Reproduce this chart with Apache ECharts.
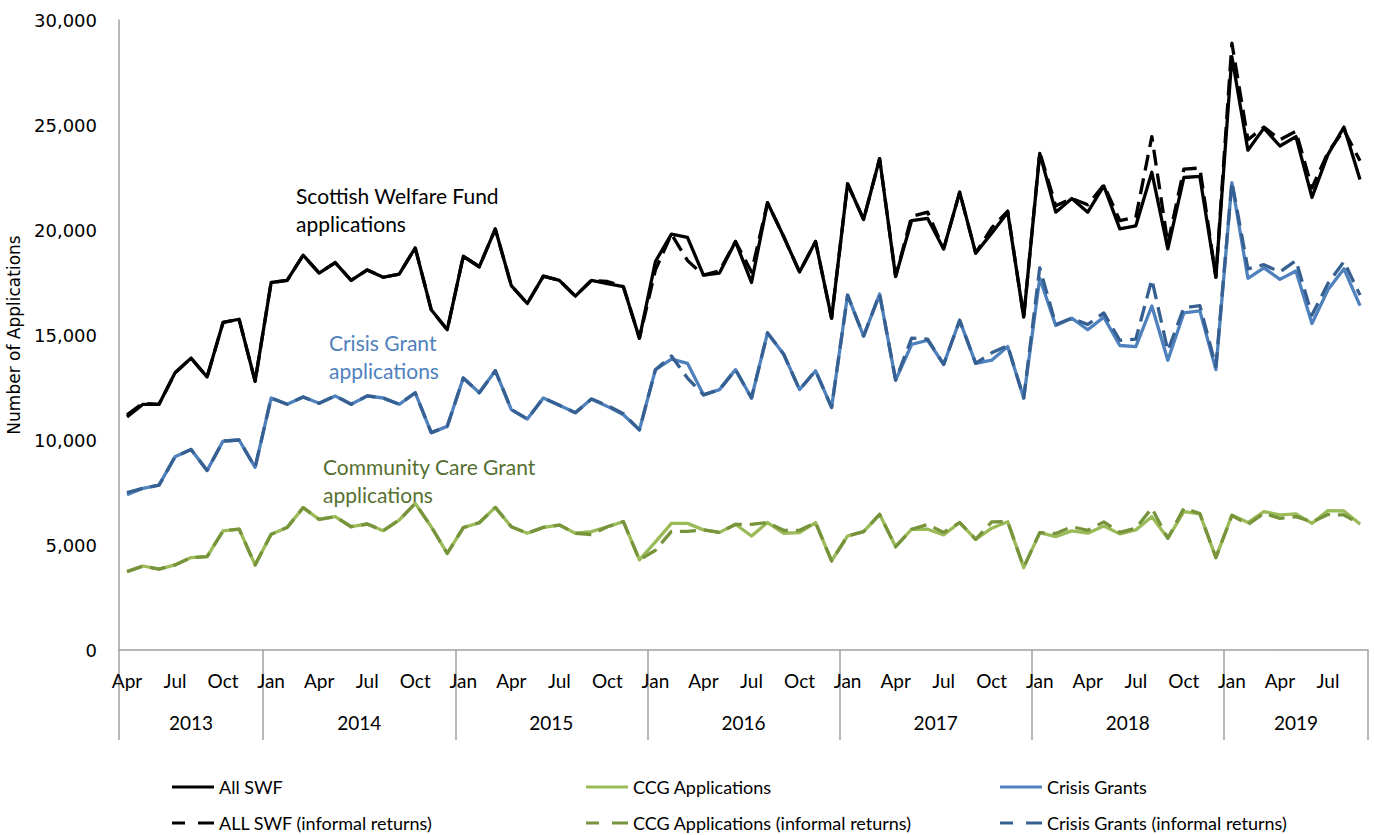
<!DOCTYPE html>
<html><head><meta charset="utf-8">
<script src="https://cdn.jsdelivr.net/npm/echarts@6/dist/echarts.min.js"></script>
<style>html,body{margin:0;padding:0;background:#fff}#c{width:1374px;height:835px}</style>
</head><body><div id="c"></div>
<script>
const categories = [
 'Apr 2013','May 2013','Jun 2013','Jul 2013','Aug 2013','Sep 2013','Oct 2013','Nov 2013','Dec 2013',
 'Jan 2014','Feb 2014','Mar 2014','Apr 2014','May 2014','Jun 2014','Jul 2014','Aug 2014','Sep 2014','Oct 2014','Nov 2014','Dec 2014',
 'Jan 2015','Feb 2015','Mar 2015','Apr 2015','May 2015','Jun 2015','Jul 2015','Aug 2015','Sep 2015','Oct 2015','Nov 2015','Dec 2015',
 'Jan 2016','Feb 2016','Mar 2016','Apr 2016','May 2016','Jun 2016','Jul 2016','Aug 2016','Sep 2016','Oct 2016','Nov 2016','Dec 2016',
 'Jan 2017','Feb 2017','Mar 2017','Apr 2017','May 2017','Jun 2017','Jul 2017','Aug 2017','Sep 2017','Oct 2017','Nov 2017','Dec 2017',
 'Jan 2018','Feb 2018','Mar 2018','Apr 2018','May 2018','Jun 2018','Jul 2018','Aug 2018','Sep 2018','Oct 2018','Nov 2018','Dec 2018',
 'Jan 2019','Feb 2019','Mar 2019','Apr 2019','May 2019','Jun 2019','Jul 2019','Aug 2019','Sep 2019'
];

const allSwf = [
 11100, 11700, 11700, 13200, 13900, 13000, 15600, 15750, 12800,
 17500, 17600, 18800, 17950, 18450, 17600, 18100, 17750, 17900, 19150, 16200, 15250,
 18750, 18250, 20050, 17350, 16500, 17800, 17600, 16850, 17600, 17450, 17300, 14850,
 18500, 19800, 19650, 17850, 17950, 19450, 17500, 21300, 19700, 18000, 19450, 15800,
 22200, 20500, 23400, 17780, 20450, 20550, 19100, 21800, 18900, 19850, 20850, 15850,
 23650, 20850, 21500, 20850, 22100, 20050, 20200, 22750, 19100, 22500, 22550, 17750,
 28250, 23800, 24850, 24000, 24450, 21550, 23600, 24900, 22400
];
const allSwfInformal = [
 11200, 11750, 11700, 13200, 13900, 13000, 15600, 15750, 12800,
 17500, 17600, 18800, 17950, 18450, 17600, 18100, 17750, 17900, 19150, 16200, 15250,
 18750, 18250, 20050, 17350, 16500, 17800, 17600, 16850, 17600, 17550, 17300, 14850,
 18100, 19800, 18550, 17850, 18050, 19450, 18000, 21300, 19700, 18000, 19450, 15800,
 22200, 20500, 23400, 17800, 20650, 20850, 19100, 21800, 18900, 20100, 20900, 15850,
 23700, 21150, 21500, 21200, 22150, 20450, 20600, 24450, 19350, 22900, 22950, 17750,
 28900, 24300, 24900, 24300, 24700, 22000, 23700, 24750, 23300
];
const crisisGrants = [
 7400, 7700, 7850, 9200, 9550, 8550, 9950, 10000, 8700,
 12000, 11700, 12050, 11750, 12100, 11700, 12100, 12000, 11700, 12250, 10350, 10650,
 12950, 12250, 13300, 11450, 11000, 12000, 11650, 11300, 11950, 11600, 11200, 10480,
 13350, 13850, 13650, 12150, 12400, 13350, 12000, 15100, 14100, 12400, 13300, 11550,
 16900, 14950, 16950, 12850, 14550, 14750, 13600, 15700, 13650, 13800, 14450, 12000,
 17700, 15450, 15800, 15250, 15850, 14500, 14450, 16380, 13800, 16050, 16150, 13350,
 22250, 17700, 18200, 17650, 18050, 15550, 17150, 18150, 16400
];
const crisisGrantsInformal = [
 7500, 7700, 7850, 9200, 9550, 8550, 9950, 10000, 8700,
 12000, 11700, 12050, 11750, 12100, 11700, 12100, 12000, 11700, 12250, 10350, 10650,
 12950, 12250, 13300, 11450, 11000, 12000, 11650, 11300, 11950, 11650, 11250, 10480,
 13350, 14000, 12950, 12150, 12400, 13350, 12000, 15100, 14100, 12400, 13300, 11550,
 16900, 14950, 16950, 12850, 14850, 14800, 13600, 15700, 13650, 14150, 14500, 12000,
 18200, 15500, 15800, 15500, 16050, 14750, 14800, 17650, 14250, 16300, 16400, 13500,
 22300, 18150, 18350, 18000, 18550, 15950, 17450, 18500, 16900
];
const ccgApplications = [
 3730, 4000, 3850, 4050, 4400, 4450, 5670, 5760, 4050,
 5510, 5830, 6780, 6220, 6350, 5870, 6000, 5680, 6190, 6980, 5870, 4600,
 5830, 6060, 6790, 5870, 5560, 5840, 5950, 5560, 5640, 5870, 6110, 4290,
 5150, 6030, 6030, 5720, 5600, 5990, 5430, 6070, 5560, 5590, 6070, 4240,
 5430, 5640, 6460, 4920, 5750, 5750, 5480, 6070, 5270, 5800, 6110, 3920,
 5590, 5400, 5670, 5560, 5900, 5530, 5720, 6350, 5320, 6590, 6480, 4400,
 6430, 6070, 6590, 6430, 6480, 6030, 6640, 6620, 6000
];
const ccgApplicationsInformal = [
 3730, 4000, 3850, 4050, 4400, 4450, 5670, 5760, 4050,
 5510, 5830, 6780, 6220, 6350, 5870, 6000, 5680, 6190, 6980, 5870, 4600,
 5830, 6060, 6790, 5870, 5560, 5840, 5950, 5560, 5500, 5870, 6110, 4290,
 4750, 5650, 5650, 5720, 5600, 5980, 5980, 6070, 5700, 5700, 6070, 4240,
 5430, 5640, 6460, 4920, 5750, 5980, 5600, 6070, 5270, 6100, 6110, 3950,
 5590, 5550, 5870, 5700, 6100, 5600, 5800, 6750, 5320, 6750, 6500, 4400,
 6400, 5980, 6500, 6270, 6350, 6100, 6450, 6430, 6000
];
const yTicks = [0, 5000, 10000, 15000, 20000, 25000, 30000];

// year labels centred on each year's span of months
const yearLabelAt = {};
(function () {
  const spans = {};
  categories.forEach((c, i) => {
    const y = c.split(' ')[1];
    if (!spans[y]) spans[y] = [i, i];
    spans[y][1] = i;
  });
  Object.keys(spans).forEach(y => {
    const centre = (spans[y][0] + spans[y][1] + 1) / 2;
    yearLabelAt[Math.round(centre * 2)] = y;
  });
})();

const FONT = 'Lato, "Open Sans", sans-serif';
const AX = '#a0a0a0';
const solidIcon = 'rect';
const dashIcon = 'path://M0,0H13V3H0Z M26,0H42V3H26Z';

const seriesDefs = [
  {name: 'All SWF', data: allSwf, color: '#000000', dashed: false},
  {name: 'CCG Applications', data: ccgApplications, color: '#9bbb59', dashed: false},
  {name: 'Crisis Grants', data: crisisGrants, color: '#4f81bd', dashed: false},
  {name: 'ALL SWF (informal returns)', data: allSwfInformal, color: '#000000', dashed: true},
  {name: 'CCG Applications (informal returns)', data: ccgApplicationsInformal, color: '#77933c', dashed: true},
  {name: 'Crisis Grants (informal returns)', data: crisisGrantsInformal, color: '#376092', dashed: true}
];
const legendPos = [[172, 778], [586, 778], [1000, 778], [172, 814], [586, 814], [1000, 814]];

const chart = echarts.init(document.getElementById('c'), null, {renderer: 'svg'});
chart.setOption({
  animation: false,
  backgroundColor: '#ffffff',
  grid: {left: 119, right: 6, top: 20, bottom: 185, outerBoundsMode: 'none', containLabel: false},
  xAxis: [
    {
      type: 'category', data: categories, boundaryGap: true,
      axisLine: {show: true, lineStyle: {color: AX, width: 1.5}},
      axisTick: {show: true, length: 90, lineStyle: {color: AX, width: 1.5},
        interval: (i, v) => i === 0 || String(v).startsWith('Jan')},
      axisLabel: {interval: 2, margin: 21, fontSize: 19, fontFamily: FONT, color: '#000',
        formatter: v => v.split(' ')[0]},
      splitLine: {show: false}
    },
    {
      type: 'value', position: 'bottom', min: 0, max: categories.length, interval: 0.5,
      axisLine: {show: false}, axisTick: {show: false}, splitLine: {show: false},
      axisLabel: {margin: 63, fontSize: 19, fontFamily: FONT, color: '#000',
        showMinLabel: true, showMaxLabel: true,
        formatter: v => yearLabelAt[Math.round(v * 2)] || ''}
    }
  ],
  yAxis: {
    type: 'value', min: yTicks[0], max: yTicks[yTicks.length - 1], interval: yTicks[1] - yTicks[0],
    name: 'Number of Applications', nameLocation: 'middle', nameGap: 97, nameRotate: 90,
    nameTextStyle: {fontSize: 17, fontFamily: '"DejaVu Sans", sans-serif', color: '#000'},
    axisLine: {show: true, lineStyle: {color: AX, width: 1.5}},
    axisTick: {show: false}, splitLine: {show: false},
    axisLabel: {margin: 22, fontSize: 18, fontFamily: '"DejaVu Sans", sans-serif', color: '#000',
      formatter: v => v.toLocaleString('en-US')}
  },
  legend: seriesDefs.map((s, k) => ({
    data: [s.name], left: legendPos[k][0], top: legendPos[k][1], padding: 0,
    itemWidth: 42, itemHeight: 3, icon: s.dashed ? dashIcon : solidIcon,
    itemStyle: {borderWidth: 0},
    textStyle: {fontSize: 18, fontFamily: FONT, color: '#000'},
    selectedMode: false
  })),
  series: seriesDefs.map((s, k) => ({
    name: s.name, type: 'line', data: s.data, xAxisIndex: 0, yAxisIndex: 0,
    symbol: 'none', showSymbol: false, z: s.dashed ? 3 : 2,
    color: s.color,
    itemStyle: {color: s.color},
    lineStyle: {color: s.color, width: 3.3, type: s.dashed ? [16, 8] : 'solid', cap: 'butt', join: 'round'},
    emphasis: {disabled: true}
  })),
  graphic: [
    {type: 'text', left: 296, top: 181, style: {text: 'Scottish Welfare Fund\napplications', font: '21px ' + FONT, fill: '#000', lineHeight: 28}},
    {type: 'text', left: 329, top: 328, style: {text: 'Crisis Grant\napplications', font: '21px ' + FONT, fill: '#4f81bd', lineHeight: 28}},
    {type: 'text', left: 323, top: 452, style: {text: 'Community Care Grant\napplications', font: '21px ' + FONT, fill: '#56702f', lineHeight: 28}}
  ]
});
</script>
</body></html>
